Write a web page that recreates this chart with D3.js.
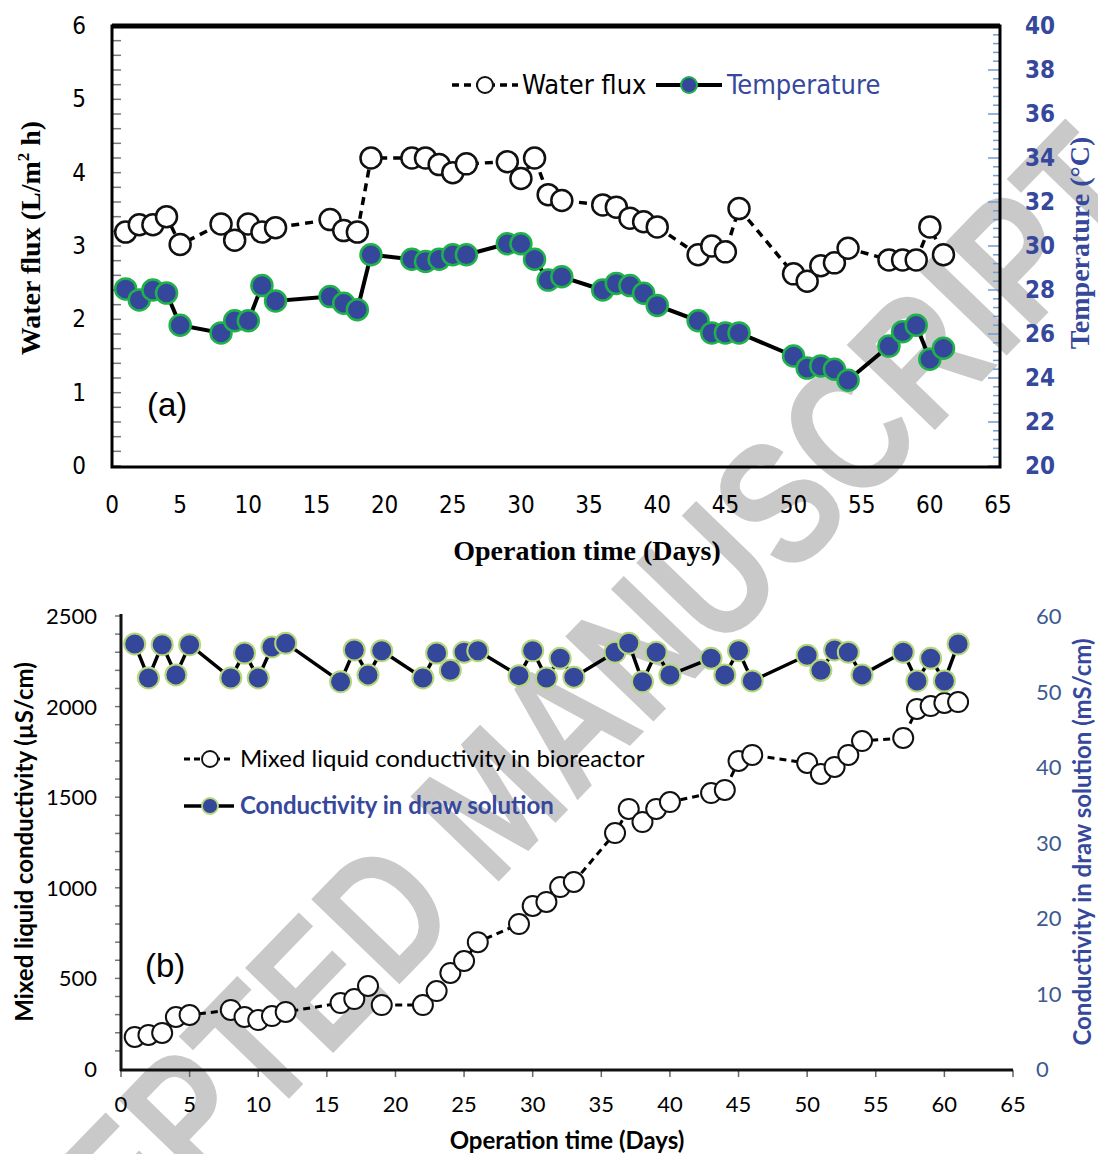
<!DOCTYPE html>
<html>
<head>
<meta charset="utf-8">
<script src="https://cdn.jsdelivr.net/npm/d3@7"></script>
<style>
  body { margin: 0; background: #fff; }
  svg { display: block; }
</style>
</head>
<body>
<svg width="1098" height="1154"></svg>
<script>
// sampling days (same for both panels)
var days = [1,2,3,4,5,8,9,10,11,12,16,17,18,19,22,23,24,25,26,29,30,31,32,33,36,37,38,39,40,43,44,45,46,50,51,52,53,54,57,58,59,60,61];

// panel (a)
var waterFlux = [3.19,3.29,3.29,3.40,3.02,3.30,3.08,3.30,3.19,3.25,3.36,3.21,3.19,4.20,4.20,4.20,4.11,4.00,4.12,4.15,3.92,4.20,3.70,3.62,3.56,3.53,3.38,3.33,3.26,2.88,3.00,2.92,3.51,2.62,2.52,2.73,2.77,2.97,2.81,2.81,2.81,3.26,2.88];
var temperature = [28.05,27.55,28.0,27.86,26.4,26.05,26.6,26.6,28.2,27.5,27.7,27.4,27.1,29.6,29.4,29.3,29.4,29.6,29.6,30.1,30.1,29.4,28.45,28.6,28.0,28.3,28.2,27.85,27.3,26.6,26.05,26.05,26.05,25.0,24.45,24.55,24.4,23.9,25.45,26.1,26.4,24.85,25.35];

// panel (b)
var mixedCond = [177,188,199,287,298,326,287,270,292,315,364,386,458,353,353,430,530,596,700,800,900,922,1004,1032,1302,1435,1363,1435,1473,1523,1540,1700,1733,1689,1628,1667,1733,1810,1827,1987,2003,2020,2025];
var drawCond = [56.3,51.8,56.2,52.2,56.2,51.8,55.1,51.8,55.9,56.4,51.3,55.5,52.2,55.4,51.8,55.1,52.8,55.2,55.4,52.1,55.4,51.8,54.4,51.9,55.2,56.4,51.3,55.2,52.2,54.4,52.2,55.4,51.4,54.8,52.8,55.5,55.2,52.2,55.2,51.4,54.4,51.4,56.3];

var xTicks = d3.range(0, 66, 5);
var fluxTicks = [0,1,2,3,4,5,6];
var tempTicks = [20,22,24,26,28,30,32,34,36,38,40];
var mixedTicks = [0,500,1000,1500,2000,2500];
var drawTicks = [0,10,20,30,40,50,60];

var svg = d3.select("svg");
var blue = "#34479b", blueText = "#35489c";

// watermark behind everything
svg.append("text")
    .attr("transform", "translate(492,800) rotate(-46)")
    .attr("text-anchor", "middle")
    .attr("dominant-baseline", "central")
    .attr("textLength", 1780)
    .attr("lengthAdjust", "spacingAndGlyphs")
    .style("font-family", "Liberation Sans, Arial, sans-serif")
    .style("font-weight", "bold")
    .style("font-size", "178px")
    .style("fill", "#c9c9c9")
    .text("ACCEPTED MANUSCRIPT");

// ---------- panel (a) ----------
var xa = d3.scaleLinear().domain([0, 65]).range([112, 998]);
var ya = d3.scaleLinear().domain([0, 6]).range([466, 26]);
var yt = d3.scaleLinear().domain([20, 40]).range([466, 26]);

var ga = svg.append("g");
var narrow = "Liberation Sans Narrow, DejaVu Sans Condensed, Arial Narrow, sans-serif";
var serif = "Liberation Serif, Times New Roman, serif";

// minor ticks
ga.selectAll(".ltick").data(d3.range(0, 6.01, 0.2)).enter().append("line")
    .attr("x1", 112).attr("x2", 121)
    .attr("y1", function(d) { return ya(d); }).attr("y2", function(d) { return ya(d); })
    .style("stroke", "#7a7a7a").style("stroke-width", 1.5);
ga.selectAll(".rtick").data(d3.range(20, 40.01, 0.4)).enter().append("line")
    .attr("x1", function(d) { return Math.abs(d - Math.round(d / 2) * 2) < 0.01 ? 988 : 993; }).attr("x2", 1000)
    .attr("y1", function(d) { return yt(d); }).attr("y2", function(d) { return yt(d); })
    .style("stroke", "#6f9bd8").style("stroke-width", 1.5);

// frame
ga.append("rect").attr("x", 112).attr("y", 26).attr("width", 888).attr("height", 441)
    .style("fill", "none").style("stroke", "#000").style("stroke-width", 3);
ga.append("line").attr("x1", 112).attr("x2", 1000).attr("y1", 26).attr("y2", 26)
    .style("stroke", "#000").style("stroke-width", 5);

// tick labels
ga.selectAll(".xl").data(xTicks).enter().append("text")
    .attr("x", function(d) { return xa(d); }).attr("y", 513)
    .attr("text-anchor", "middle")
    .style("font-family", narrow).style("font-size", "24px")
    .text(function(d) { return d; });
ga.selectAll(".yl").data(fluxTicks).enter().append("text")
    .attr("x", 86).attr("y", function(d) { return ya(d) + 8; })
    .attr("text-anchor", "end")
    .style("font-family", narrow).style("font-size", "24px")
    .text(function(d) { return d; });
ga.selectAll(".tl").data(tempTicks).enter().append("text")
    .attr("x", 1025).attr("y", function(d) { return yt(d) + 8; })
    .style("font-family", narrow).style("font-size", "24px").style("font-weight", "bold")
    .style("fill", blueText)
    .text(function(d) { return d; });

// axis titles
ga.append("text")
    .attr("x", 587).attr("y", 560).attr("text-anchor", "middle")
    .style("font-family", serif).style("font-weight", "bold").style("font-size", "28px")
    .text("Operation time (Days)");
var yTitle = ga.append("text")
    .attr("transform", "translate(40,238) rotate(-90)").attr("text-anchor", "middle")
    .style("font-family", serif).style("font-weight", "bold").style("font-size", "28px");
yTitle.append("tspan").text("Water flux (L/m");
yTitle.append("tspan").attr("dy", -11).style("font-size", "17px").text("2");
yTitle.append("tspan").attr("dy", 11).text(" h)");
ga.append("text")
    .attr("transform", "translate(1089,243) rotate(-90)").attr("text-anchor", "middle")
    .style("font-family", serif).style("font-weight", "bold").style("font-size", "28px")
    .style("fill", blueText)
    .text("Temperature (°C)");

// series
var lineFlux = d3.line().x(function(d, i) { return xa(days[i]); }).y(function(d) { return ya(d); });
var lineTemp = d3.line().x(function(d, i) { return xa(days[i]); }).y(function(d) { return yt(d); });

ga.append("path").datum(waterFlux).attr("d", lineFlux)
    .style("fill", "none").style("stroke", "#000").style("stroke-width", 3.5).style("stroke-dasharray", "8,6");
ga.selectAll(".wf").data(waterFlux).enter().append("circle")
    .attr("cx", function(d, i) { return xa(days[i]); }).attr("cy", function(d) { return ya(d); })
    .attr("r", 10.5)
    .style("fill", "#fff").style("stroke", "#111").style("stroke-width", 2.5);

ga.append("path").datum(temperature).attr("d", lineTemp)
    .style("fill", "none").style("stroke", "#000").style("stroke-width", 4);
ga.selectAll(".tp").data(temperature).enter().append("circle")
    .attr("cx", function(d, i) { return xa(days[i]); }).attr("cy", function(d) { return yt(d); })
    .attr("r", 10.5)
    .style("fill", blue).style("stroke", "#1fb24a").style("stroke-width", 2.5);

// legend (a)
ga.append("line").attr("x1", 452).attr("x2", 518).attr("y1", 85).attr("y2", 85)
    .style("stroke", "#000").style("stroke-width", 3.5).style("stroke-dasharray", "7,5");
ga.append("circle").attr("cx", 485).attr("cy", 85).attr("r", 8)
    .style("fill", "#fff").style("stroke", "#111").style("stroke-width", 2);
ga.append("text").attr("x", 522).attr("y", 94)
    .style("font-family", narrow).style("font-size", "27px")
    .text("Water flux");
ga.append("line").attr("x1", 656).attr("x2", 722).attr("y1", 85).attr("y2", 85)
    .style("stroke", "#000").style("stroke-width", 4);
ga.append("circle").attr("cx", 689).attr("cy", 85).attr("r", 8)
    .style("fill", blue).style("stroke", "#1fb24a").style("stroke-width", 2);
ga.append("text").attr("x", 727).attr("y", 94)
    .style("font-family", narrow).style("font-size", "27px").style("fill", blueText)
    .text("Temperature");

ga.append("text").attr("x", 147).attr("y", 416)
    .style("font-family", "Liberation Sans, Arial, sans-serif").style("font-size", "33px")
    .text("(a)");

// ---------- panel (b) ----------
var xb = d3.scaleLinear().domain([0, 65]).range([121, 1013]);
var yb = d3.scaleLinear().domain([0, 2500]).range([1069, 616]);
var yd = d3.scaleLinear().domain([0, 60]).range([1069, 616]);

var gb = svg.append("g");
var sans = "Lato, Open Sans, sans-serif";

gb.selectAll(".lt").data(d3.range(100, 2501, 100)).enter().append("line")
    .attr("x1", 115).attr("x2", 121)
    .attr("y1", function(d) { return yb(d); }).attr("y2", function(d) { return yb(d); })
    .style("stroke", "#777").style("stroke-width", 1.5);
gb.selectAll(".bt").data(xTicks).enter().append("line")
    .attr("x1", function(d) { return xb(d); }).attr("x2", function(d) { return xb(d); })
    .attr("y1", 1070).attr("y2", 1077)
    .style("stroke", "#666").style("stroke-width", 1.5);
gb.append("line").attr("x1", 121).attr("x2", 121).attr("y1", 614).attr("y2", 1071)
    .style("stroke", "#111").style("stroke-width", 3);
gb.append("line").attr("x1", 120).attr("x2", 1013).attr("y1", 1070).attr("y2", 1070)
    .style("stroke", "#111").style("stroke-width", 3);

gb.selectAll(".xl").data(xTicks).enter().append("text")
    .attr("x", function(d) { return xb(d); }).attr("y", 1112)
    .attr("text-anchor", "middle")
    .style("font-family", sans).style("font-size", "22px")
    .text(function(d) { return d; });
gb.selectAll(".yl").data(mixedTicks).enter().append("text")
    .attr("x", 97).attr("y", function(d) { return yb(d) + 8; })
    .attr("text-anchor", "end")
    .style("font-family", sans).style("font-size", "22px")
    .text(function(d) { return d; });
gb.selectAll(".dl").data(drawTicks).enter().append("text")
    .attr("x", 1036).attr("y", function(d) { return yd(d) + 8; })
    .style("font-family", sans).style("font-size", "22px").style("fill", "#3d5a91")
    .text(function(d) { return d; });

gb.append("text")
    .attr("x", 567).attr("y", 1149).attr("text-anchor", "middle")
    .style("font-family", sans).style("font-weight", "bold").style("font-size", "24px")
    .text("Operation time (Days)");
gb.append("text")
    .attr("transform", "translate(33,842) rotate(-90)").attr("text-anchor", "middle")
    .style("font-family", sans).style("font-weight", "bold").style("font-size", "24px")
    .text("Mixed liquid conductivity (µS/cm)");
gb.append("text")
    .attr("transform", "translate(1091,842) rotate(-90)").attr("text-anchor", "middle")
    .style("font-family", sans).style("font-weight", "bold").style("font-size", "24px")
    .style("fill", blueText)
    .text("Conductivity in draw solution (mS/cm)");

var lineMixed = d3.line().x(function(d, i) { return xb(days[i]); }).y(function(d) { return yb(d); });
var lineDraw = d3.line().x(function(d, i) { return xb(days[i]); }).y(function(d) { return yd(d); });

gb.append("path").datum(mixedCond).attr("d", lineMixed)
    .style("fill", "none").style("stroke", "#000").style("stroke-width", 3).style("stroke-dasharray", "7,5");
gb.selectAll(".mc").data(mixedCond).enter().append("circle")
    .attr("cx", function(d, i) { return xb(days[i]); }).attr("cy", function(d) { return yb(d); })
    .attr("r", 10)
    .style("fill", "#fff").style("stroke", "#111").style("stroke-width", 2);

gb.append("path").datum(drawCond).attr("d", lineDraw)
    .style("fill", "none").style("stroke", "#000").style("stroke-width", 3.5);
gb.selectAll(".dc").data(drawCond).enter().append("circle")
    .attr("cx", function(d, i) { return xb(days[i]); }).attr("cy", function(d) { return yd(d); })
    .attr("r", 10.5)
    .style("fill", blue).style("stroke", "#b5d67a").style("stroke-width", 2);

// legend (b)
gb.append("line").attr("x1", 184).attr("x2", 234).attr("y1", 759).attr("y2", 759)
    .style("stroke", "#000").style("stroke-width", 3).style("stroke-dasharray", "6,4");
gb.append("circle").attr("cx", 210).attr("cy", 759).attr("r", 8)
    .style("fill", "#fff").style("stroke", "#111").style("stroke-width", 1.8);
gb.append("text").attr("x", 240).attr("y", 767)
    .style("font-family", sans).style("font-size", "24px")
    .text("Mixed liquid conductivity in bioreactor");
gb.append("line").attr("x1", 184).attr("x2", 234).attr("y1", 806).attr("y2", 806)
    .style("stroke", "#000").style("stroke-width", 3.5);
gb.append("circle").attr("cx", 210).attr("cy", 806).attr("r", 8)
    .style("fill", blue).style("stroke", "#b5d67a").style("stroke-width", 1.8);
gb.append("text").attr("x", 240).attr("y", 814)
    .style("font-family", sans).style("font-size", "24px").style("font-weight", "bold").style("fill", blueText)
    .text("Conductivity in draw solution");

gb.append("text").attr("x", 145).attr("y", 977)
    .style("font-family", "Liberation Sans, Arial, sans-serif").style("font-size", "33px")
    .text("(b)");
</script>
</body>
</html>
